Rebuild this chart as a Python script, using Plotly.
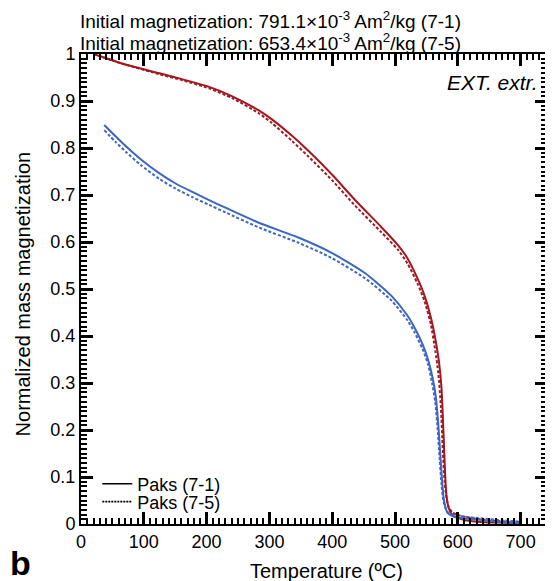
import plotly.graph_objects as go

# Normalized thermomagnetic curves, Paks samples 7-1 and 7-5
# red = heating, blue = cooling; solid = 7-1, dotted = 7-5

heat_71_t = [20, 40, 72, 125, 162, 204, 241, 283, 304, 336, 362, 400, 436, 478, 505, 520, 536, 547,
             557, 565, 570, 574, 577, 580, 582, 586, 592, 600, 610, 630, 663, 700]
heat_71_m = [1.0, 0.991, 0.977, 0.959, 0.946, 0.930, 0.910, 0.880, 0.861, 0.826, 0.794, 0.743, 0.690,
             0.632, 0.593, 0.565, 0.522, 0.486, 0.440, 0.388, 0.345, 0.29, 0.20, 0.10, 0.06, 0.032, 0.018,
             0.013, 0.0085, 0.005, 0.003, 0.002]

heat_75_t = [20, 40, 72, 125, 162, 204, 241, 283, 304, 336, 362, 400, 436, 478, 505, 520, 536, 547,
             557, 564, 569, 573, 576, 579, 582, 586, 592, 600, 620, 650, 680, 700]
heat_75_m = [1.0, 0.991, 0.977, 0.957, 0.944, 0.927, 0.906, 0.874, 0.853, 0.815, 0.782, 0.731, 0.678,
             0.621, 0.583, 0.554, 0.511, 0.474, 0.425, 0.37, 0.32, 0.25, 0.16, 0.09, 0.055, 0.034, 0.024,
             0.019, 0.013, 0.008, 0.005, 0.004]

cool_71_t = [37, 55, 72, 95, 125, 150, 178, 204, 230, 283, 347, 399, 452, 494, 520, 531, 544, 553, 560,
             565, 569, 572, 575, 578, 584, 595, 615, 637, 670, 700]
cool_71_m = [0.849, 0.825, 0.803, 0.776, 0.746, 0.725, 0.706, 0.689, 0.673, 0.641, 0.609, 0.577, 0.534,
             0.486, 0.443, 0.418, 0.382, 0.348, 0.31, 0.27, 0.21, 0.15, 0.09, 0.05, 0.023, 0.015, 0.011,
             0.0085, 0.004, 0.0015]

cool_75_t = [37, 55, 72, 95, 125, 150, 178, 204, 230, 283, 347, 399, 452, 494, 520, 531, 544, 553, 559,
             564, 568, 571, 574, 577, 583, 595, 615, 637, 670, 700]
cool_75_m = [0.838, 0.813, 0.791, 0.764, 0.734, 0.714, 0.695, 0.679, 0.663, 0.631, 0.598, 0.566, 0.523,
             0.476, 0.433, 0.408, 0.372, 0.338, 0.30, 0.26, 0.20, 0.14, 0.085, 0.05, 0.026, 0.019, 0.015,
             0.012, 0.008, 0.005]

legend_names = ["Paks (7-1)", "Paks (7-5)"]
header_lines = [
    "Initial magnetization: 791.1×10<sup>-3</sup> Am<sup>2</sup>/kg (7-1)",
    "Initial magnetization: 653.4×10<sup>-3</sup> Am<sup>2</sup>/kg (7-5)",
]

RED = "#a3171f"
BLUE = "#3b66c2"
FONT = "Arial, Liberation Sans, sans-serif"
DOTS = "3px,2px"

fig = go.Figure()

# curves
for t, m, color, dash in [
    (heat_71_t, heat_71_m, RED, "solid"),
    (heat_75_t, heat_75_m, RED, DOTS),
    (cool_71_t, cool_71_m, BLUE, "solid"),
    (cool_75_t, cool_75_m, BLUE, DOTS),
]:
    fig.add_trace(go.Scatter(x=t, y=m, mode="lines", showlegend=False,
                             line=dict(color=color, width=2, dash=dash, shape="spline", smoothing=0.6)))

# legend entries (black line style only): single point, so nothing is drawn in the plot
fig.add_trace(go.Scatter(x=heat_71_t[:1], y=heat_71_m[:1], mode="lines", name=legend_names[0],
                         line=dict(color="black", width=1.6), legend="legend", hoverinfo="skip"))
fig.add_trace(go.Scatter(x=heat_75_t[:1], y=heat_75_m[:1], mode="lines", name=legend_names[1],
                         line=dict(color="black", width=1.6, dash="2px,1px"), legend="legend2",
                         hoverinfo="skip"))

# thin ticks did not show up in the render, so the widths are a bit heavier than the original
fig.update_xaxes(
    range=[0, 742], dtick=100,
    showline=True, linecolor="black", linewidth=2, mirror="ticks",
    ticks="inside", ticklen=12, tickwidth=2.5, tickcolor="black",
    minor=dict(dtick=10, ticks="inside", ticklen=6, tickwidth=2, tickcolor="black"),
    tickfont=dict(size=18, color="black", family=FONT),
)
fig.update_yaxes(
    range=[0, 1], dtick=0.1,
    showline=True, linecolor="black", linewidth=2, mirror="ticks",
    ticks="inside", ticklen=12, tickwidth=2.5, tickcolor="black",
    minor=dict(dtick=0.01, ticks="inside", ticklen=6, tickwidth=2, tickcolor="black"),
    tickfont=dict(size=18, color="black", family=FONT),
)

legend_style = dict(font=dict(size=18, color="black", family=FONT), bgcolor="rgba(0,0,0,0)",
                    xanchor="left", yanchor="middle", x=0.035, itemwidth=30)

# the page body has an 8 px margin, so the figure is 8 px smaller than the window
fig.update_layout(
    template="simple_white",
    width=545, height=573,
    margin=dict(l=73, r=4, t=46, b=57),
    font=dict(family=FONT, color="black"),
    legend=dict(y=0.085, **legend_style),
    legend2=dict(y=0.047, **legend_style),
)

# header text above the plot
for i, line in enumerate(header_lines):
    fig.add_annotation(text=line, xref="paper", yref="paper", x=0, y=1 + (34 - 22 * i) / 470,
                       xanchor="left", yanchor="middle", showarrow=False, xshift=-3,
                       font=dict(size=19, color="black", family=FONT))

fig.add_annotation(text="<i>EXT. extr.</i>", xref="paper", yref="paper", x=0.984, y=0.94,
                   xanchor="right", yanchor="middle", showarrow=False,
                   font=dict(size=21, color="black", family=FONT))

# axis titles
fig.add_annotation(text="Temperature (ºC)", xref="paper", yref="paper", x=0.526, y=-0.1,
                   xanchor="center", yanchor="middle", showarrow=False,
                   font=dict(size=20, color="black", family=FONT))
fig.add_annotation(text="Normalized mass magnetization", xref="paper", yref="paper", x=-0.124, y=0.489,
                   xanchor="center", yanchor="middle", textangle=-90, showarrow=False,
                   font=dict(size=20, color="black", family=FONT))

# panel letter
fig.add_annotation(text="<b>b</b>", xref="paper", yref="paper", x=-0.157, y=-0.083,
                   xanchor="left", yanchor="middle", showarrow=False,
                   font=dict(size=34, color="black", family=FONT))

fig.write_html("out.html")
